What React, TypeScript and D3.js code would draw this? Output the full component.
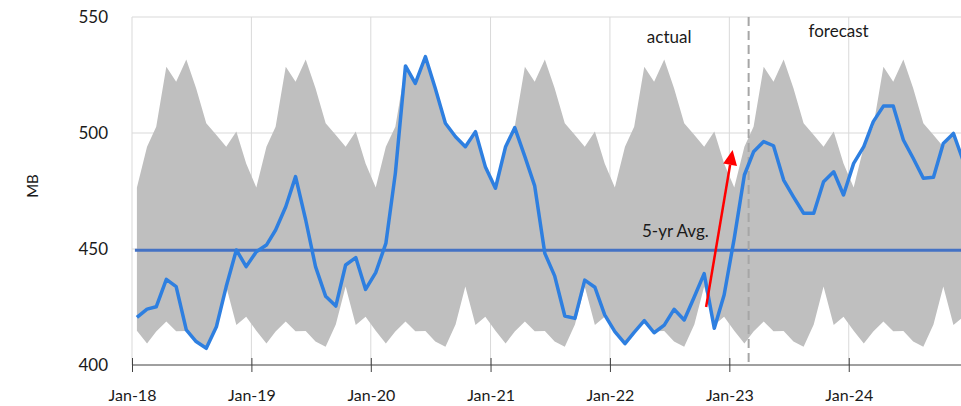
import React, { useEffect, useRef } from 'react';
import * as d3 from 'd3';

// monthly stocks, Jan-18 .. Dec-24 (MB)
const stocks = [
  420.5, 424.1, 425.1, 436.9, 433.8, 415.1, 410.1, 407.2, 416.5, 433.8, 449.6, 442.4,
  448.8, 451.7, 458.2, 468.2, 481.2, 462.5, 442.4, 429.6, 425.4, 443.1, 446.3, 432.6,
  439.8, 452.4, 482.6, 528.9, 521.4, 532.9, 519.3, 504.2, 498.4, 494.1, 500.6, 485.5,
  476.2, 494.1, 502.3, 489.8, 477.2, 448.1, 438.4, 421.1, 420.1, 436.6, 433.5, 421.6,
  414.4, 409.2, 414.1, 419.1, 413.9, 417.2, 424.0, 419.4, 429.4, 439.4, 415.8, 430.2,
  454.6, 481.9, 491.9, 496.3, 494.5, 479.7, 472.5, 465.4, 465.4, 479.0, 483.3, 473.3,
  486.9, 494.1, 504.9, 511.6, 511.6, 497.0, 489.1, 480.5, 480.9, 495.5, 499.8, 488.0,
];
// 5-yr range by calendar month (Jan..Dec)
const rangeHigh = [476.5, 494.1, 502.7, 528.6, 522.1, 531.7, 519.3, 504.2, 499.1, 494.1, 500.6, 486.9];
const rangeLow = [414.8, 409.3, 414.4, 418.7, 414.5, 414.7, 410.1, 407.9, 417.5, 433.8, 417.2, 420.8];
const fiveYrAvg = 449.5;
const yTicks = [400, 450, 500, 550];
const xTickYears = [2018, 2019, 2020, 2021, 2022, 2023, 2024];
const forecastStart = new Date(2023, 2, 1);
const arrowFrom = { date: new Date(2022, 9, 22), value: 425 };
const arrowTo = { date: new Date(2023, 0, 11), value: 492.7 };

const FONT = 'Lato, "DejaVu Sans", sans-serif';

export default function App() {
  const ref = useRef<SVGSVGElement>(null);

  useEffect(() => {
    const svg = d3.select(ref.current);
    svg.selectAll('*').remove();

    const left = 132, top = 17, bottom = 365;
    const monthW = 9.958;
    const x = d3.scaleTime()
      .domain([new Date(2018, 0, 1), new Date(2025, 0, 1)])
      .range([left, left + 84 * monthW]);
    const y = d3.scaleLinear().domain([400, 550]).range([bottom, top]);

    const data = stocks.map((v, i) => ({
      date: new Date(2018, i, 16),
      value: v,
      hi: rangeHigh[i % 12],
      lo: rangeLow[i % 12],
    }));

    // grid
    svg.append('g').selectAll('line')
      .data(yTicks.filter(d => d > 400))
      .join('line')
      .attr('x1', left).attr('x2', 961)
      .attr('y1', d => y(d)).attr('y2', d => y(d))
      .attr('stroke', '#d9d9d9').attr('stroke-width', 1);
    svg.append('g').selectAll('line')
      .data(xTickYears)
      .join('line')
      .attr('x1', d => x(new Date(d, 0, 1))).attr('x2', d => x(new Date(d, 0, 1)))
      .attr('y1', top).attr('y2', bottom)
      .attr('stroke', '#d9d9d9').attr('stroke-width', 1);

    // 5 yr range band
    const area = d3.area<any>()
      .x(d => x(d.date))
      .y0(d => y(d.lo))
      .y1(d => y(d.hi));
    svg.append('path').datum(data).attr('d', area).attr('fill', '#bfbfbf');

    // avg line
    svg.append('line')
      .attr('x1', x(data[0].date) - 2).attr('x2', 961)
      .attr('y1', y(fiveYrAvg)).attr('y2', y(fiveYrAvg))
      .attr('stroke', '#4472c4').attr('stroke-width', 3);

    // forecast divider
    svg.append('line')
      .attr('x1', x(forecastStart)).attr('x2', x(forecastStart))
      .attr('y1', top).attr('y2', bottom)
      .attr('stroke', '#a6a6a6').attr('stroke-width', 2)
      .attr('stroke-dasharray', '9,5');

    // stocks line
    const line = d3.line<any>().x(d => x(d.date)).y(d => y(d.value));
    svg.append('path').datum(data).attr('d', line)
      .attr('fill', 'none').attr('stroke', '#2e7fe0')
      .attr('stroke-width', 3.5).attr('stroke-linejoin', 'round');

    // red arrow
    const ax1 = x(arrowFrom.date), ay1 = y(arrowFrom.value);
    const ax2 = x(arrowTo.date), ay2 = y(arrowTo.value);
    const ang = Math.atan2(ay2 - ay1, ax2 - ax1);
    const headLen = 15, headW = 7;
    const bx = ax2 - headLen * Math.cos(ang), by = ay2 - headLen * Math.sin(ang);
    svg.append('line')
      .attr('x1', ax1).attr('y1', ay1).attr('x2', bx).attr('y2', by)
      .attr('stroke', '#ff0000').attr('stroke-width', 2.5);
    const px = -Math.sin(ang), py = Math.cos(ang);
    svg.append('polygon')
      .attr('points', [
        [ax2, ay2],
        [bx + px * headW, by + py * headW],
        [bx - px * headW, by - py * headW],
      ].map(p => p.join(',')).join(' '))
      .attr('fill', '#ff0000');

    // x axis
    const ax = svg.append('g').attr('transform', `translate(0,${bottom})`)
      .call(d3.axisBottom(x)
        .tickValues(xTickYears.map(d => new Date(d, 0, 1)))
        .tickFormat(d3.timeFormat('Jan-%y') as any)
        .tickSizeInner(7).tickSizeOuter(0).tickPadding(18));
    ax.select('.domain').attr('stroke', '#404040').attr('d', `M${left},0H961`);
    ax.selectAll('.tick line').attr('stroke', '#404040').attr('y1', -7).attr('y2', 7);
    ax.selectAll('.tick text')
      .attr('font-family', FONT).attr('font-size', 16).attr('fill', '#1a1a1a');

    // y labels
    svg.append('g').selectAll('text')
      .data(yTicks)
      .join('text')
      .attr('x', 108).attr('y', d => y(d)).attr('dy', '0.35em')
      .attr('text-anchor', 'end')
      .attr('font-family', FONT).attr('font-size', 17).attr('fill', '#1a1a1a')
      .text(d => d);

    svg.append('text')
      .attr('transform', 'translate(33,186) rotate(-90)')
      .attr('text-anchor', 'middle').attr('dy', '0.35em')
      .attr('font-family', FONT).attr('font-size', 15).attr('fill', '#1a1a1a')
      .text('MB');

    const notes = [
      { label: 'actual', date: new Date(2022, 6, 1), yy: 43 },
      { label: 'forecast', date: new Date(2023, 11, 1), yy: 37 },
      { label: '5-yr Avg.', date: new Date(2022, 6, 20), yy: 237 },
    ];
    svg.append('g').selectAll('text')
      .data(notes)
      .join('text')
      .attr('x', d => x(d.date)).attr('y', d => d.yy)
      .attr('text-anchor', 'middle')
      .attr('font-family', FONT).attr('font-size', 17).attr('fill', '#1a1a1a')
      .text(d => d.label);
  }, []);

  return (
    <svg ref={ref} width={961} height={406}
      style={{ position: 'absolute', left: 0, top: 0, background: '#fff' }} />
  );
}
